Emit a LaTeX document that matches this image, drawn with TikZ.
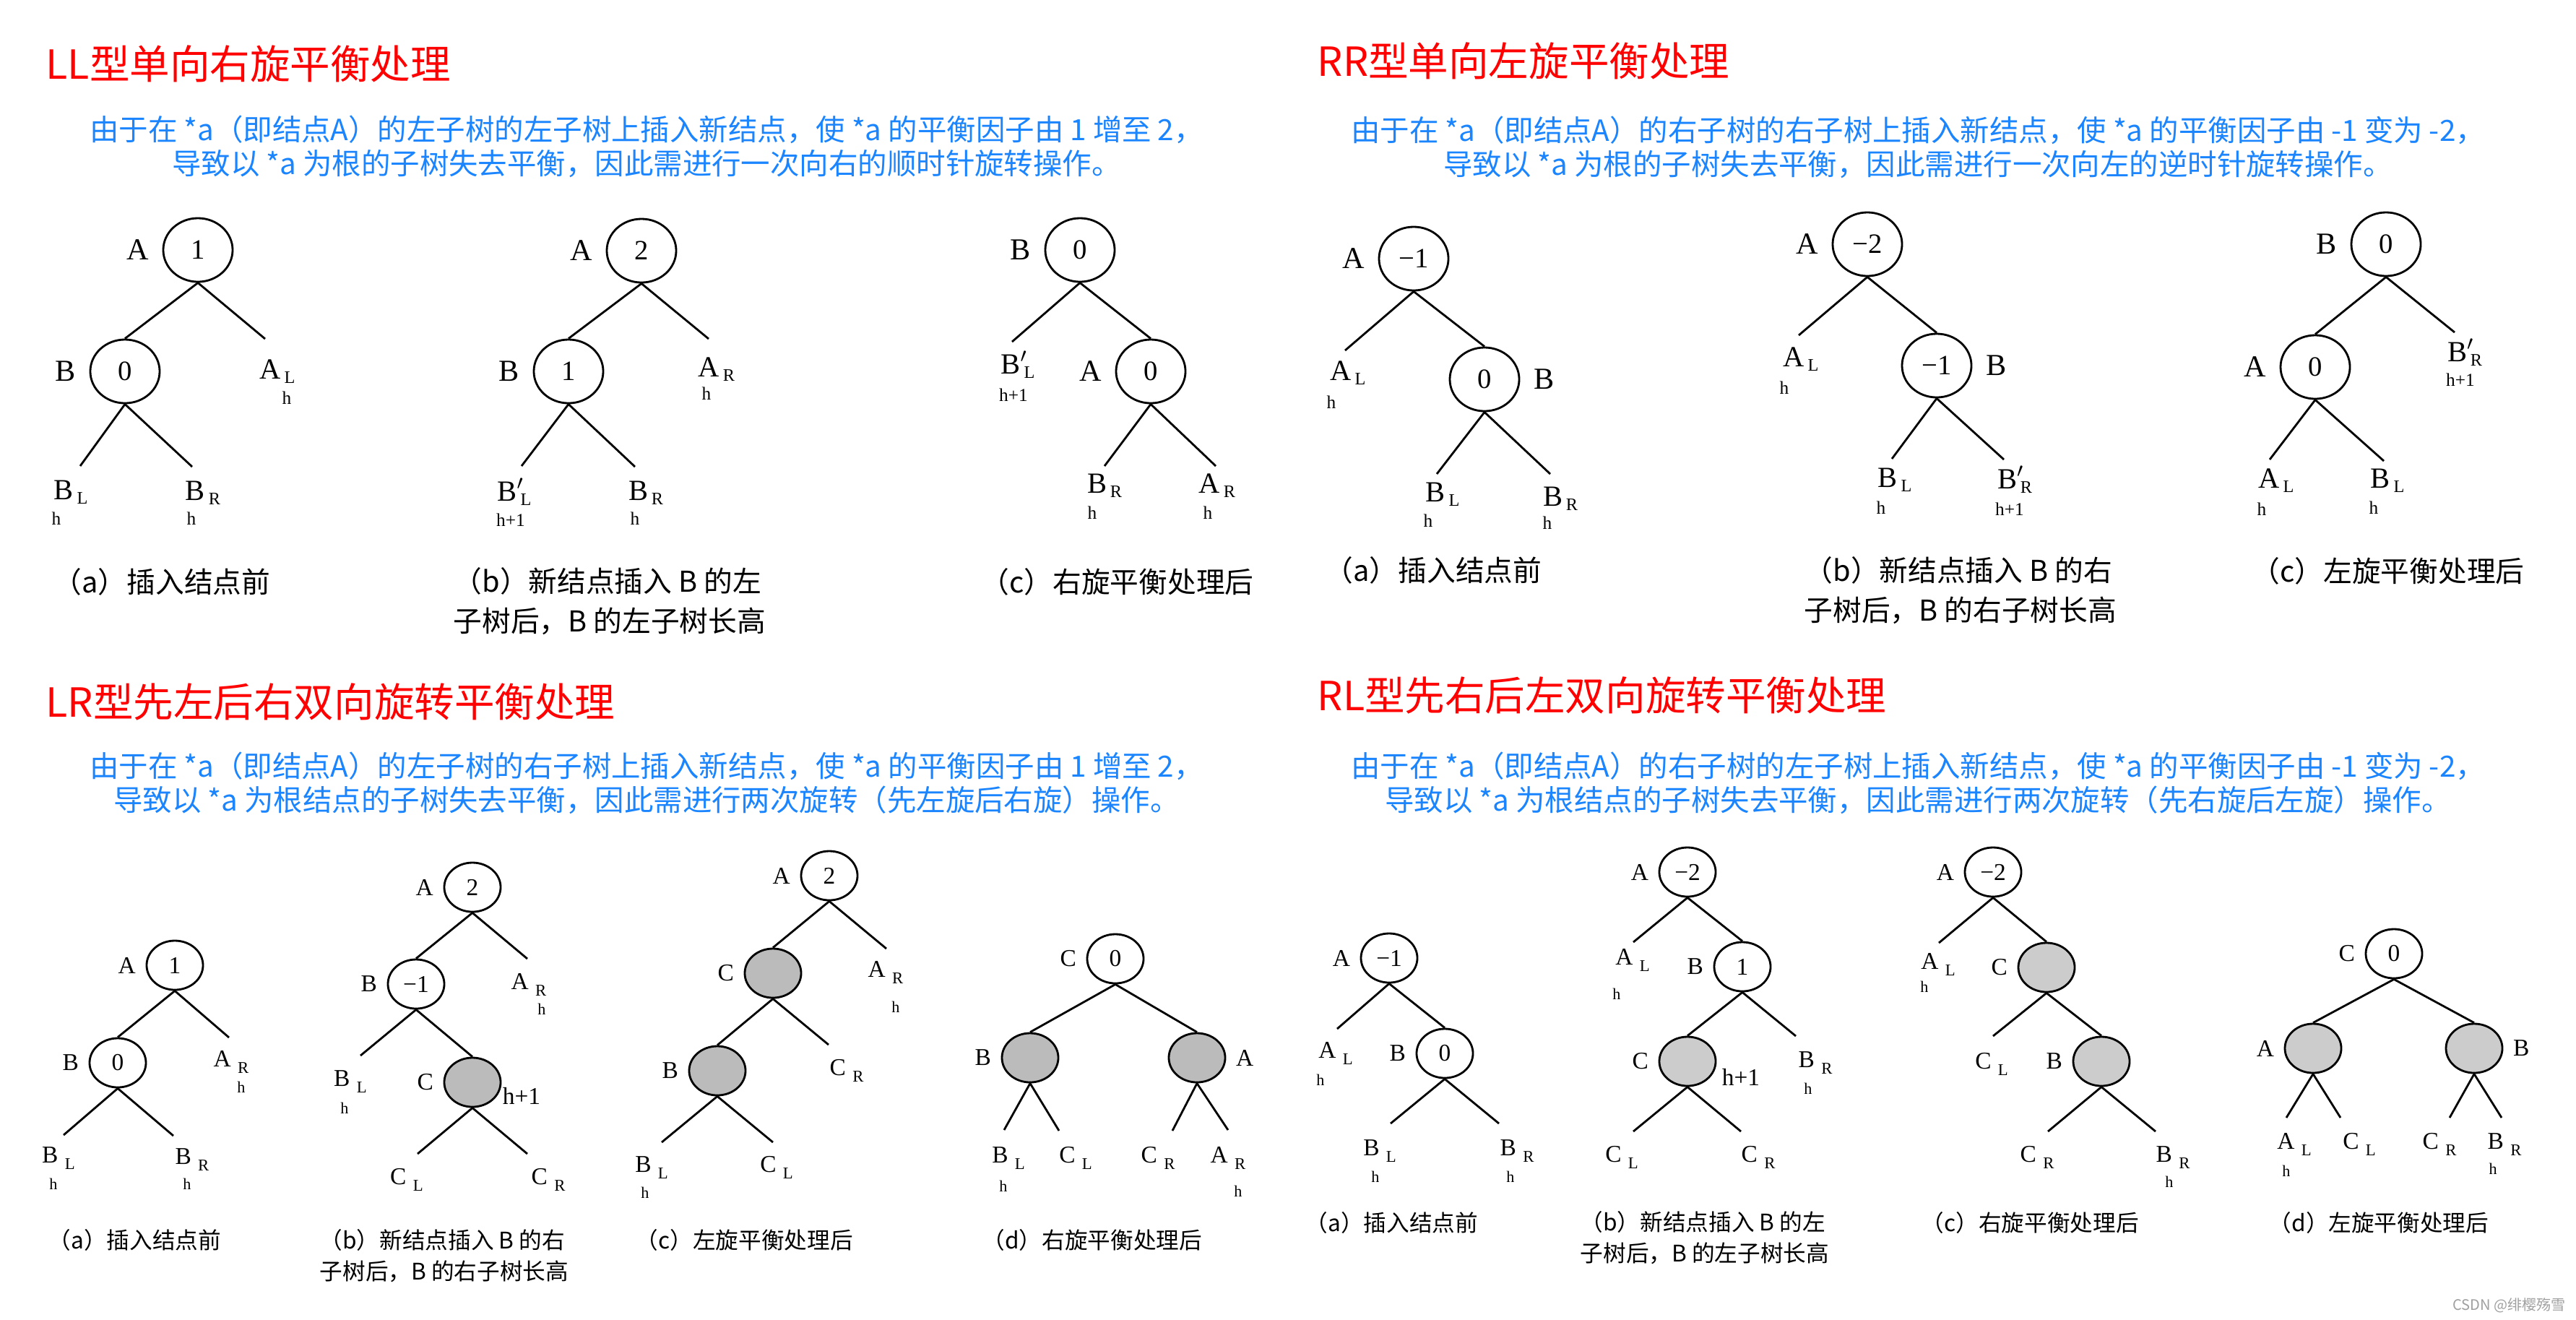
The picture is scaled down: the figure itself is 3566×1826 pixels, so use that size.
\documentclass[tikz,border=0pt]{standalone}
\usepackage{fontspec}
\setmainfont{Liberation Serif}
\newfontfamily\cjk{Noto Sans CJK SC}
\usetikzlibrary{shapes.geometric,positioning}
\definecolor{avred}{HTML}{FF0000}
\definecolor{avblue}{HTML}{1A85FF}
\definecolor{avgreyA}{HTML}{BBBBBB}
\definecolor{avgreyB}{HTML}{CCCCCC}
\definecolor{avmark}{HTML}{A0A0A0}
\newcommand\sub[1]{\kern.12em\raisebox{-.35ex}{\scalebox{.6}{#1}}}
\newcommand\ssub[1]{\kern.28em\raisebox{-.6ex}{\scalebox{.68}{#1}}}
\newcommand\bpr{\rlap{$'$}}
\tikzset{
  bnode/.style={ellipse,draw,line width=0.8pt,minimum width=0.96cm,minimum height=0.88cm,
                inner sep=0pt,font=\fontsize{11}{13}\selectfont},
  snode/.style={ellipse,draw,line width=0.8pt,minimum width=0.78cm,minimum height=0.68cm,
                inner sep=0pt,font=\fontsize{9.5}{11}\selectfont},
  shadeA/.style={fill=avgreyA},
  shadeB/.style={fill=avgreyB},
  btag/.style={font=\fontsize{12}{14}\selectfont,inner sep=0pt,label distance=0.18cm},
  stag/.style={font=\fontsize{9.5}{11}\selectfont,inner sep=0pt,label distance=0.13cm},
  leaf/.style={font=\fontsize{11.5}{13}\selectfont,inner sep=0pt},
  sleaf/.style={font=\fontsize{9.5}{11}\selectfont,inner sep=0pt},
  hgt/.style={font=\fontsize{7.2}{8}\selectfont,inner sep=0pt},
  shgt/.style={font=\fontsize{6.3}{7}\selectfont,inner sep=0pt},
  heading/.style={font=\cjk\fontsize{15.8}{18}\selectfont,text=avred,anchor=west,inner sep=0pt},
  note/.style={font=\cjk\fontsize{11.5}{13.5}\selectfont,text=avblue,align=center,inner sep=0pt},
  bcap/.style={font=\cjk\fontsize{11.3}{15.6}\selectfont,align=left,anchor=west,inner sep=0pt},
  scap/.style={font=\cjk\fontsize{9}{12.4}\selectfont,align=left,anchor=west,inner sep=0pt},
  link/.style={line width=0.8pt},
}
\begin{document}
\begin{tikzpicture}[x=0.01cm,y=-0.01cm]
  \useasboundingbox[fill=white] (0,0) rectangle (3566,1826);

  % ---------------- LL
  \node[heading] (ttl-ll) at (63,88) {LL型单向右旋平衡处理};
  \node[note] (txt-ll) at (895,203) {由于在 *a（即结点A）的左子树的左子树上插入新结点，使 *a 的平衡因子由 1 增至 2，\\导致以 *a 为根的子树失去平衡，因此需进行一次向右的顺时针旋转操作。};
  % (a)
  \node[bnode,label={[btag]left:A}] (lla-A) at (274,346) {1};
  \node[bnode,label={[btag]left:B}] (lla-B) at (173,514) {0};
  \coordinate (lla-e1) at (367,469); \coordinate (lla-e2) at (111,645); \coordinate (lla-e3) at (266,646);
  \draw[link] (lla-B.north) -- (lla-A.south) -- (lla-e1);
  \draw[link] (lla-e2) -- (lla-B.south) -- (lla-e3);
  \node[leaf] (lla-AL) at (384,514) {A\sub{L}}; \node[hgt] (lla-h1) at (397,551) {h};
  \node[leaf] (lla-BL) at (98,681) {B\sub{L}};  \node[hgt] (lla-h2) at (78,718) {h};
  \node[leaf] (lla-BR) at (281,682) {B\sub{R}}; \node[hgt] (lla-h3) at (265,718) {h};
  \node[bcap] (cap-lla) at (73,805) {（a）插入结点前};
  % (b)
  \node[bnode,label={[btag]left:A}] (llb-A) at (888,347) {2};
  \node[bnode,label={[btag]left:B}] (llb-B) at (787,514) {1};
  \coordinate (llb-e1) at (981,469); \coordinate (llb-e2) at (722,645); \coordinate (llb-e3) at (879,646);
  \draw[link] (llb-B.north) -- (llb-A.south) -- (llb-e1);
  \draw[link] (llb-e2) -- (llb-B.south) -- (llb-e3);
  \node[leaf] (llb-AR) at (992,511) {A\sub{R}};         \node[hgt] (llb-h1) at (978,545) {h};
  \node[leaf] (llb-BL) at (712,681) {B\bpr\sub{L}};     \node[hgt] (llb-h2) at (707,720) {h+1};
  \node[leaf] (llb-BR) at (894,682) {B\sub{R}};         \node[hgt] (llb-h3) at (879,718) {h};
  \node[bcap] (cap-llb) at (627,832) {（b）新结点插入 B 的左\\子树后，B 的左子树长高};
  % (c)
  \node[bnode,label={[btag]left:B}] (llc-B) at (1495,346) {0};
  \node[bnode,label={[btag]left:A}] (llc-A) at (1593,514) {0};
  \coordinate (llc-e1) at (1401,473); \coordinate (llc-e2) at (1529,645); \coordinate (llc-e3) at (1683,645);
  \draw[link] (llc-e1) -- (llc-B.south) -- (llc-A.north);
  \draw[link] (llc-e2) -- (llc-A.south) -- (llc-e3);
  \node[leaf] (llc-BL) at (1409,505) {B\bpr\sub{L}};    \node[hgt] (llc-h1) at (1403,547) {h+1};
  \node[leaf] (llc-BR) at (1529,672) {B\sub{R}};        \node[hgt] (llc-h2) at (1512,710) {h};
  \node[leaf] (llc-AR) at (1685,672) {A\sub{R}};        \node[hgt] (llc-h3) at (1672,710) {h};
  \node[bcap] (cap-llc) at (1357,805) {（c）右旋平衡处理后};

  % ---------------- RR
  \node[heading] (ttl-rr) at (1823,84) {RR型单向左旋平衡处理};
  \node[note] (txt-rr) at (2655,204) {由于在 *a（即结点A）的右子树的右子树上插入新结点，使 *a 的平衡因子由 -1 变为 -2，\\导致以 *a 为根的子树失去平衡，因此需进行一次向左的逆时针旋转操作。};
  % (a)
  \node[bnode,label={[btag]left:A}] (rra-A) at (1957,358) {−1};
  \node[bnode,label={[btag]right:B}] (rra-B) at (2055,525) {0};
  \coordinate (rra-e1) at (1862,485); \coordinate (rra-e2) at (1989,656); \coordinate (rra-e3) at (2146,656);
  \draw[link] (rra-e1) -- (rra-A.south) -- (rra-B.north);
  \draw[link] (rra-e2) -- (rra-B.south) -- (rra-e3);
  \node[leaf] (rra-AL) at (1866,516) {A\sub{L}};        \node[hgt] (rra-h1) at (1843,557) {h};
  \node[leaf] (rra-BL) at (1997,684) {B\sub{L}};        \node[hgt] (rra-h2) at (1977,721) {h};
  \node[leaf] (rra-BR) at (2160,690) {B\sub{R}};        \node[hgt] (rra-h3) at (2142,724) {h};
  \node[bcap] (cap-rra) at (1833,789) {（a）插入结点前};
  % (b)
  \node[bnode,label={[btag]left:A}] (rrb-A) at (2585,338) {−2};
  \node[bnode,label={[btag]right:B}] (rrb-B) at (2681,506) {−1};
  \coordinate (rrb-e1) at (2490,464); \coordinate (rrb-e2) at (2619,635); \coordinate (rrb-e3) at (2774,636);
  \draw[link] (rrb-e1) -- (rrb-A.south) -- (rrb-B.north);
  \draw[link] (rrb-e2) -- (rrb-B.south) -- (rrb-e3);
  \node[leaf] (rrb-AL) at (2493,497) {A\sub{L}};        \node[hgt] (rrb-h1) at (2470,537) {h};
  \node[leaf] (rrb-BL) at (2623,664) {B\sub{L}};        \node[hgt] (rrb-h2) at (2604,703) {h};
  \node[leaf] (rrb-BR) at (2789,664) {B\bpr\sub{R}};    \node[hgt] (rrb-h3) at (2782,705) {h+1};
  \node[bcap] (cap-rrb) at (2497,817) {（b）新结点插入 B 的右\\子树后，B 的右子树长高};
  % (c)
  \node[bnode,label={[btag]left:B}] (rrc-B) at (3303,338) {0};
  \node[bnode,label={[btag]left:A}] (rrc-A) at (3205,508) {0};
  \coordinate (rrc-e1) at (3398,460); \coordinate (rrc-e2) at (3142,636); \coordinate (rrc-e3) at (3300,638);
  \draw[link] (rrc-A.north) -- (rrc-B.south) -- (rrc-e1);
  \draw[link] (rrc-e2) -- (rrc-A.south) -- (rrc-e3);
  \node[leaf] (rrc-BR) at (3412,488) {B\bpr\sub{R}};    \node[hgt] (rrc-h1) at (3406,526) {h+1};
  \node[leaf] (rrc-AL) at (3151,665) {A\sub{L}};        \node[hgt] (rrc-h2) at (3131,705) {h};
  \node[leaf] (rrc-BL) at (3305,665) {B\sub{L}};        \node[hgt] (rrc-h3) at (3286,703) {h};
  \node[bcap] (cap-rrc) at (3116,790) {（c）左旋平衡处理后};

  % ---------------- LR
  \node[heading] (ttl-lr) at (63,971) {LR型先左后右双向旋转平衡处理};
  \node[note] (txt-lr) at (895,1084) {由于在 *a（即结点A）的左子树的右子树上插入新结点，使 *a 的平衡因子由 1 增至 2，\\导致以 *a 为根结点的子树失去平衡，因此需进行两次旋转（先左旋后右旋）操作。};
  % (a)
  \node[snode,label={[stag]left:A}] (lra-A) at (242,1336) {1};
  \node[snode,label={[stag]left:B}] (lra-B) at (163,1471) {0};
  \coordinate (lra-e1) at (317,1436); \coordinate (lra-e2) at (88,1571); \coordinate (lra-e3) at (240,1572);
  \draw[link] (lra-B.north) -- (lra-A.south) -- (lra-e1);
  \draw[link] (lra-e2) -- (lra-B.south) -- (lra-e3);
  \node[sleaf] (lra-AR) at (320,1470) {A\ssub{R}};       \node[shgt] (lra-h1) at (334,1505) {h};
  \node[sleaf] (lra-BL) at (81,1603) {B\ssub{L}};        \node[shgt] (lra-h2) at (74,1639) {h};
  \node[sleaf] (lra-BR) at (266,1605) {B\ssub{R}};       \node[shgt] (lra-h3) at (259,1639) {h};
  \node[scap] (cap-lra) at (66,1716) {（a）插入结点前};
  % (b)
  \node[snode,label={[stag]left:A}] (lrb-A) at (654,1228) {2};
  \node[snode,label={[stag]left:B}] (lrb-B) at (576,1362) {−1};
  \node[snode,shadeA,label={[stag]left:C}] (lrb-C) at (654,1498) {};
  \coordinate (lrb-e1) at (730,1327); \coordinate (lrb-e2) at (499,1461);
  \coordinate (lrb-e3) at (578,1597); \coordinate (lrb-e4) at (730,1597);
  \draw[link] (lrb-B.north) -- (lrb-A.south) -- (lrb-e1);
  \draw[link] (lrb-e2) -- (lrb-B.south) -- (lrb-C.north);
  \draw[link] (lrb-e3) -- (lrb-C.south) -- (lrb-e4);
  \node[sleaf] (lrb-AR) at (732,1363) {A\ssub{R}};       \node[shgt] (lrb-h1) at (750,1397) {h};
  \node[sleaf] (lrb-BL) at (485,1497) {B\ssub{L}};       \node[shgt] (lrb-h2) at (477,1534) {h};
  \node[sleaf] (lrb-h3) at (722,1517) {h+1};
  \node[sleaf] (lrb-CL) at (563,1633) {C\ssub{L}};
  \node[sleaf] (lrb-CR) at (759,1633) {C\ssub{R}};
  \node[scap] (cap-lrb) at (442,1738) {（b）新结点插入 B 的右\\子树后，B 的右子树长高};
  % (c)
  \node[snode,label={[stag]left:A}] (lrc-A) at (1148,1212) {2};
  \node[snode,shadeA,label={[stag]left:C}] (lrc-C) at (1070,1347) {};
  \node[snode,shadeA,label={[stag]left:B}] (lrc-B) at (993,1482) {};
  \coordinate (lrc-e1) at (1227,1313); \coordinate (lrc-e2) at (1147,1446);
  \coordinate (lrc-e3) at (916,1581); \coordinate (lrc-e4) at (1070,1581);
  \draw[link] (lrc-C.north) -- (lrc-A.south) -- (lrc-e1);
  \draw[link] (lrc-B.north) -- (lrc-C.south) -- (lrc-e2);
  \draw[link] (lrc-e3) -- (lrc-B.south) -- (lrc-e4);
  \node[sleaf] (lrc-AR) at (1226,1346) {A\ssub{R}};      \node[shgt] (lrc-h1) at (1240,1394) {h};
  \node[sleaf] (lrc-CR) at (1172,1482) {C\ssub{R}};
  \node[sleaf] (lrc-BL) at (902,1616) {B\ssub{L}};       \node[shgt] (lrc-h2) at (893,1651) {h};
  \node[sleaf] (lrc-CL) at (1075,1616) {C\ssub{L}};
  \node[scap] (cap-lrc) at (879,1716) {（c）左旋平衡处理后};
  % (d)
  \node[snode,label={[stag]left:C}] (lrd-C) at (1544,1327) {0};
  \node[snode,shadeA,label={[stag]left:B}] (lrd-B) at (1426,1464) {};
  \node[snode,shadeA,label={[stag]right:A}] (lrd-A) at (1657,1464) {};
  \coordinate (lrd-e1) at (1390,1564); \coordinate (lrd-e2) at (1466,1565);
  \coordinate (lrd-e3) at (1623,1565); \coordinate (lrd-e4) at (1700,1564);
  \draw[link] (lrd-B.north) -- (lrd-C.south) -- (lrd-A.north);
  \draw[link] (lrd-e1) -- (lrd-B.south) -- (lrd-e2);
  \draw[link] (lrd-e3) -- (lrd-A.south) -- (lrd-e4);
  \node[sleaf] (lrd-BL) at (1396,1603) {B\ssub{L}};      \node[shgt] (lrd-h1) at (1389,1642) {h};
  \node[sleaf] (lrd-CL) at (1489,1603) {C\ssub{L}};
  \node[sleaf] (lrd-CR) at (1603,1603) {C\ssub{R}};
  \node[sleaf] (lrd-AR) at (1700,1603) {A\ssub{R}};      \node[shgt] (lrd-h2) at (1714,1649) {h};
  \node[scap] (cap-lrd) at (1359,1716) {（d）右旋平衡处理后};

  % ---------------- RL
  \node[heading] (ttl-rl) at (1823,962) {RL型先右后左双向旋转平衡处理};
  \node[note] (txt-rl) at (2655,1084) {由于在 *a（即结点A）的右子树的左子树上插入新结点，使 *a 的平衡因子由 -1 变为 -2，\\导致以 *a 为根结点的子树失去平衡，因此需进行两次旋转（先右旋后左旋）操作。};
  % (a)
  \node[snode,label={[stag]left:A}] (rla-A) at (1923,1326) {−1};
  \node[snode,label={[stag]left:B}] (rla-B) at (2000,1458) {0};
  \coordinate (rla-e1) at (1851,1424); \coordinate (rla-e2) at (1925,1555); \coordinate (rla-e3) at (2075,1555);
  \draw[link] (rla-e1) -- (rla-A.south) -- (rla-B.north);
  \draw[link] (rla-e2) -- (rla-B.south) -- (rla-e3);
  \node[sleaf] (rla-AL) at (1849,1458) {A\ssub{L}};      \node[shgt] (rla-h1) at (1828,1495) {h};
  \node[sleaf] (rla-BL) at (1910,1593) {B\ssub{L}};      \node[shgt] (rla-h2) at (1904,1629) {h};
  \node[sleaf] (rla-BR) at (2100,1593) {B\ssub{R}};      \node[shgt] (rla-h3) at (2091,1629) {h};
  \node[scap] (cap-rla) at (1806,1692) {（a）插入结点前};
  % (b)
  \node[snode,label={[stag]left:A}] (rlb-A) at (2336,1207) {−2};
  \node[snode,label={[stag]left:B}] (rlb-B) at (2412,1338) {1};
  \node[snode,shadeB,label={[stag]left:C}] (rlb-C) at (2336,1469) {};
  \coordinate (rlb-e1) at (2261,1304); \coordinate (rlb-e2) at (2486,1434);
  \coordinate (rlb-e3) at (2261,1566); \coordinate (rlb-e4) at (2410,1566);
  \draw[link] (rlb-e1) -- (rlb-A.south) -- (rlb-B.north);
  \draw[link] (rlb-C.north) -- (rlb-B.south) -- (rlb-e2);
  \draw[link] (rlb-e3) -- (rlb-C.south) -- (rlb-e4);
  \node[sleaf] (rlb-AL) at (2260,1329) {A\ssub{L}};      \node[shgt] (rlb-h1) at (2238,1376) {h};
  \node[sleaf] (rlb-BR) at (2513,1471) {B\ssub{R}};      \node[shgt] (rlb-h2) at (2503,1507) {h};
  \node[sleaf] (rlb-h3) at (2410,1491) {h+1};
  \node[sleaf] (rlb-CL) at (2245,1602) {C\ssub{L}};
  \node[sleaf] (rlb-CR) at (2434,1602) {C\ssub{R}};
  \node[scap] (cap-rlb) at (2187,1713) {（b）新结点插入 B 的左\\子树后，B 的左子树长高};
  % (c)
  \node[snode,label={[stag]left:A}] (rlc-A) at (2759,1207) {−2};
  \node[snode,shadeB,label={[stag]left:C}] (rlc-C) at (2833,1339) {};
  \node[snode,shadeB,label={[stag]left:B}] (rlc-B) at (2909,1469) {};
  \coordinate (rlc-e1) at (2684,1305); \coordinate (rlc-e2) at (2759,1434);
  \coordinate (rlc-e3) at (2835,1566); \coordinate (rlc-e4) at (2984,1566);
  \draw[link] (rlc-e1) -- (rlc-A.south) -- (rlc-C.north);
  \draw[link] (rlc-e2) -- (rlc-C.south) -- (rlc-B.north);
  \draw[link] (rlc-e3) -- (rlc-B.south) -- (rlc-e4);
  \node[sleaf] (rlc-AL) at (2683,1335) {A\ssub{L}};      \node[shgt] (rlc-h1) at (2664,1366) {h};
  \node[sleaf] (rlc-CL) at (2757,1473) {C\ssub{L}};
  \node[sleaf] (rlc-CR) at (2820,1602) {C\ssub{R}};
  \node[sleaf] (rlc-BR) at (3008,1602) {B\ssub{R}};      \node[shgt] (rlc-h2) at (3003,1636) {h};
  \node[scap] (cap-rlc) at (2659,1692) {（c）右旋平衡处理后};
  % (d)
  \node[snode,label={[stag]left:C}] (rld-C) at (3314,1320) {0};
  \node[snode,shadeB,label={[stag]left:A}] (rld-A) at (3202,1451) {};
  \node[snode,shadeB,label={[stag]right:B}] (rld-B) at (3425,1451) {};
  \coordinate (rld-e1) at (3165,1547); \coordinate (rld-e2) at (3240,1547);
  \coordinate (rld-e3) at (3391,1547); \coordinate (rld-e4) at (3463,1547);
  \draw[link] (rld-A.north) -- (rld-C.south) -- (rld-B.north);
  \draw[link] (rld-e1) -- (rld-A.south) -- (rld-e2);
  \draw[link] (rld-e3) -- (rld-B.south) -- (rld-e4);
  \node[sleaf] (rld-AL) at (3176,1584) {A\ssub{L}};      \node[shgt] (rld-h1) at (3165,1621) {h};
  \node[sleaf] (rld-CL) at (3266,1584) {C\ssub{L}};
  \node[sleaf] (rld-CR) at (3377,1584) {C\ssub{R}};
  \node[sleaf] (rld-BR) at (3467,1584) {B\ssub{R}};      \node[shgt] (rld-h2) at (3451,1618) {h};
  \node[scap] (cap-rld) at (3140,1692) {（d）左旋平衡处理后};

  \node[font=\cjk\fontsize{5.7}{7}\selectfont,text=avmark,anchor=east,inner sep=0pt] (mark) at (3552,1807) {CSDN @绯樱殇雪};
\end{tikzpicture}
\end{document}
